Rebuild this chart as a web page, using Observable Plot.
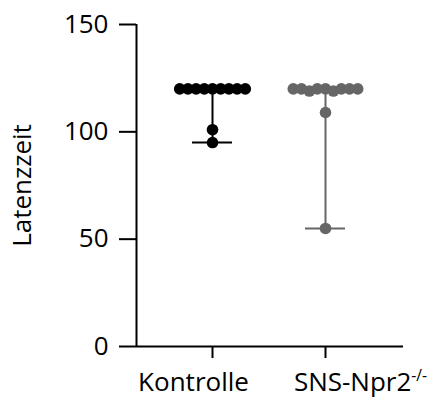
<!DOCTYPE html>
<html><head><meta charset="utf-8">
<script src="https://cdn.jsdelivr.net/npm/d3@7"></script>
<script src="https://cdn.jsdelivr.net/npm/@observablehq/plot@0.6"></script>
<style>
html,body{margin:0;padding:0;background:#fff;}
#chart svg{display:block;}
</style></head><body><div id="chart"></div>
<script>
// ---- data ----
const categories = ["Kontrolle", "SNS-Npr2"];
const labelSuperscripts = ["", "-/-"];
const colors = ["#000000", "#666666"];
const kontrolleValues = [120, 120, 120, 120, 120, 120, 120, 120, 120, 101, 95];
const snsValues = [120, 120, 119, 119, 120, 120, 120, 120, 120, 109, 55];
const yTicks = [0, 50, 100, 150];
const yDomain = [0, 150];
const yLabel = "Latenzzeit";

// ---- layout ----
const width = 433, height = 401;
const margin = {top: 24, right: 30, bottom: 55, left: 136};
const xDomain = [-0.6726, 1.6903];
const kx = (width - margin.left - margin.right) / (xDomain[1] - xDomain[0]);
const ky = (height - margin.top - margin.bottom) / (yDomain[1] - yDomain[0]);
const dotR = 5.8, minDist = 8.2, capHalfPx = 20;
const labelShifts = [-19, 35];

// simple beeswarm: place each dot as close to the centre as possible
function swarm(values) {
  const placed = [];
  return values.map(v => {
    const py = v * ky;
    const cands = [0];
    for (const p of placed) {
      const dy = py - p.py;
      if (Math.abs(dy) < minDist) {
        const dx = Math.sqrt(minDist * minDist - dy * dy);
        cands.push(p.px - dx, p.px + dx);
      }
    }
    const sorted = cands.map((c, i) => [c, i])
      .sort((a, b) => (Math.abs(a[0]) - Math.abs(b[0])) || (a[1] - b[1]))
      .map(d => d[0]);
    const px = sorted.find(c => placed.every(p => Math.hypot(c - p.px, py - p.py) >= minDist - 1e-6));
    placed.push({px, py});
    return px / kx;
  });
}

const groups = [kontrolleValues, snsValues];
const points = groups.flatMap((vals, gi) => {
  const offs = swarm(vals);
  return vals.map((v, k) => ({group: categories[gi], gi, value: v, x: gi + offs[k]}));
});
const ranges = groups.map((vals, gi) => ({group: categories[gi], gi, min: d3.min(vals), max: d3.max(vals)}));
const caps = ranges.flatMap(d => [{...d, value: d.min}, {...d, value: d.max}]);
const capHalf = capHalfPx / kx;

const chart = Plot.plot({
  width, height,
  marginTop: margin.top, marginRight: margin.right, marginBottom: margin.bottom, marginLeft: margin.left,
  x: {domain: xDomain},
  y: {domain: yDomain},
  color: {domain: categories, range: colors},
  style: {fontFamily: "'Open Sans', sans-serif", fontSize: "26px", color: "#000", background: "#fff"},
  marks: [
    Plot.ruleX(ranges, {x: "gi", y1: "min", y2: "max", stroke: "group", strokeWidth: 2}),
    Plot.ruleY(caps, {y: "value", x1: d => d.gi - capHalf, x2: d => d.gi + capHalf, stroke: "group", strokeWidth: 2}),
    Plot.dot(points, {x: "x", y: "value", r: dotR, fill: "group"}),
    Plot.ruleX([xDomain[0]], {strokeWidth: 2}),
    Plot.ruleY([0], {strokeWidth: 2}),
    Plot.axisY({ticks: yTicks, tickSize: 17, tickPadding: 11, strokeWidth: 2, fontSize: 26,
      label: yLabel, labelAnchor: "center", labelArrow: false, labelOffset: 124}),
    Plot.axisX({ticks: [0, 1], tickFormat: i => categories[i], tickSize: 12, tickPadding: 14,
      strokeWidth: 2, fontSize: 26, label: null})
  ]
});

document.getElementById("chart").appendChild(chart);

// superscripts and label offsets on the category tick labels
chart.querySelectorAll("text").forEach(t => {
  const i = categories.indexOf(t.textContent);
  if (i < 0) return;
  t.setAttribute("dx", labelShifts[i]);
  if (labelSuperscripts[i]) {
    const ts = document.createElementNS("http://www.w3.org/2000/svg", "tspan");
    ts.setAttribute("font-size", "0.6em");
    ts.setAttribute("dy", "-10");
    ts.textContent = labelSuperscripts[i];
    t.appendChild(ts);
  }
});
</script>
</body></html>
